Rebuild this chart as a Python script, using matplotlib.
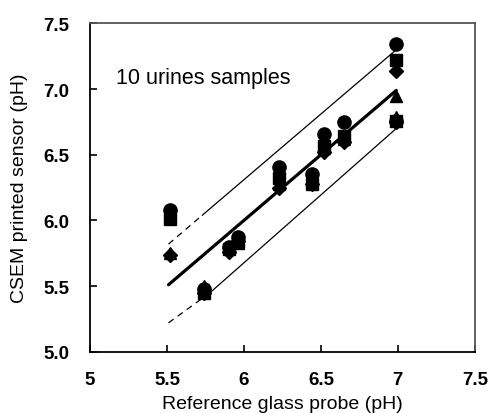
import numpy as np
import matplotlib.pyplot as plt

plt.rcParams['font.family'] = ['Liberation Sans', 'DejaVu Sans']

# reference glass probe pH for the 10 urine samples
ref_ph = [5.52, 5.74, 5.90, 5.96, 6.23, 6.44, 6.52, 6.65, 6.99, 6.99]

# CSEM printed sensors (4 sensors)
sens_diamond = [5.74, 5.45, 5.76, 5.84, 6.25, 6.28, 6.52, 6.60, 7.14, 6.75]
sens_square = [6.01, 5.45, 5.78, 5.83, 6.32, 6.28, 6.57, 6.64, 7.22, 6.76]
sens_triangle = [5.75, 5.50, 5.80, 5.85, 6.28, 6.30, 6.55, 6.62, 6.95, 6.79]
sens_circle = [6.08, 5.48, 5.80, 5.87, 6.41, 6.35, 6.66, 6.75, 7.34, 6.76]

# regression line and bounds
fit_x = [5.51, 6.99]
fit_y = [5.51, 6.99]
upper_x = [5.51, 5.73, 6.99]
upper_y = [5.82, 6.04, 7.30]
lower_x = [5.51, 5.78, 6.99]
lower_y = [5.22, 5.45, 6.70]

fig = plt.figure(figsize=(4.92, 4.14), dpi=100)
ax = fig.add_axes([0.183, 0.148, 0.782, 0.793])

ax.plot(upper_x[:2], upper_y[:2], color='black', lw=0.9, ls=(0, (5, 4)))
ax.plot(upper_x[1:], upper_y[1:], color='black', lw=0.9)
ax.plot(lower_x[:2], lower_y[:2], color='black', lw=0.9, ls=(0, (5, 4)))
ax.plot(lower_x[1:], lower_y[1:], color='black', lw=0.9)
ax.plot(fit_x, fit_y, color='black', lw=2.3, solid_capstyle='round')

ax.plot(ref_ph, sens_diamond, 'D', color='black', ms=7, ls='none')
ax.plot(ref_ph, sens_square, 's', color='black', ms=9, ls='none')
ax.plot(ref_ph, sens_triangle, '^', color='black', ms=9, ls='none')
ax.plot(ref_ph, sens_circle, 'o', color='black', ms=9.5, ls='none')

ax.text(5.17, 7.09, '10 urines samples', fontsize=15.5, va='center', ha='left')

ax.set_xlim(5, 7.5)
ax.set_ylim(5.0, 7.5)
ax.set_xticks([5, 5.5, 6, 6.5, 7, 7.5])
ax.set_xticklabels(['5', '5.5', '6', '6.5', '7', '7.5'])
ax.set_yticks([5.0, 5.5, 6.0, 6.5, 7.0, 7.5])
ax.set_yticklabels(['5.0', '5.5', '6.0', '6.5', '7.0', '7.5'])
ax.tick_params(direction='in', length=5, width=1.2, labelsize=13.5)
for lab in ax.get_xticklabels() + ax.get_yticklabels():
    lab.set_fontweight('bold')
ax.tick_params(axis='y', pad=15)
ax.tick_params(axis='x', pad=14)
for s in ax.spines.values():
    s.set_linewidth(1.3)
ax.spines['top'].set_color('#555555')
ax.spines['right'].set_color('#555555')

ax.set_xlabel('Reference glass probe (pH)', fontsize=14)
ax.set_ylabel('CSEM printed sensor (pH)', fontsize=14)
ax.xaxis.set_label_coords(0.5, -0.159)
ax.yaxis.set_label_coords(-0.184, 0.5)
ax.xaxis.label.set_va('center')
ax.yaxis.label.set_va('center')

fig.savefig('out.png', dpi=100)
